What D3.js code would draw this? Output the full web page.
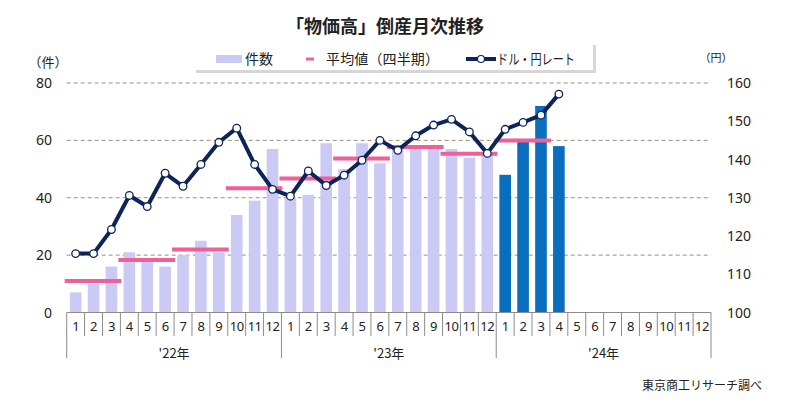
<!DOCTYPE html>
<html><head><meta charset="utf-8">
<script src="https://cdn.jsdelivr.net/npm/d3@7/dist/d3.min.js"></script>
<style>
html,body{margin:0;padding:0;background:#fff;}
svg text{font-family:"Noto Sans CJK JP","Noto Sans",sans-serif;fill:#222;}
</style></head>
<body><svg id="c" width="788" height="404"></svg>
<script>
const monthLabels = ["1","2","3","4","5","6","7","8","9","10","11","12"];
const yearLabels = ["'22年","'23年","'24年"];
const counts = [7,10,16,21,18,16,20,25,21,34,39,57, 40,41,59,50,59,52,57,58,58,57,54,55, 48,60,72,58];
const quarterAvg = [11,18.3,22,43.3,46.7,53.7,57.7,55.3,60];
const rate = [115.4,115.4,121.7,130.6,127.7,136.4,133.0,138.7,144.5,148.2,138.7,132.2,130.4,137.0,133.2,135.9,139.8,145.0,142.4,146.2,149.0,150.5,147.2,141.6,147.9,149.7,151.6,157.1];
const leftTicks = [0,20,40,60,80];
const rightTicks = [100,110,120,130,140,150,160];

const svg = d3.select("#c");
const X0 = 66.7, X1 = 711, Y0 = 312.5, Y1 = 83;
const slots = [];
yearLabels.forEach((y,yi)=>monthLabels.forEach((m,mi)=>slots.push(yi*12+mi)));
const x = d3.scaleBand().domain(slots).range([X0,X1]).paddingInner(0.35).paddingOuter(0.175);
const xs = d3.scaleLinear().domain([0,36]).range([X0,X1]);
const yL = d3.scaleLinear().domain([0,80]).range([Y0,Y1]);
const yR = d3.scaleLinear().domain([100,160]).range([Y0,Y1]);

// gridlines
svg.append("g").selectAll("line").data(leftTicks.filter(d=>d>0)).join("line")
  .attr("x1",X0).attr("x2",X1).attr("y1",d=>yL(d)).attr("y2",d=>yL(d))
  .attr("stroke","#9a8f78").attr("stroke-width",1).attr("stroke-dasharray","4,3");

// bars
svg.append("g").selectAll("rect").data(counts).join("rect")
  .attr("x",(d,i)=>x(i)).attr("width",x.bandwidth())
  .attr("y",d=>yL(d)).attr("height",d=>Y0-yL(d))
  .attr("fill",(d,i)=>i>=24?"#0a6ebf":"#cacaf5");

// quarterly averages
svg.append("g").selectAll("line").data(quarterAvg).join("line")
  .attr("x1",(d,i)=>xs(i*3)-2).attr("x2",(d,i)=>xs(i*3+3)+1)
  .attr("y1",d=>yL(d)).attr("y2",d=>yL(d))
  .attr("stroke","#ef5f98").attr("stroke-width",4);

// rate line
const line = d3.line().x((d,i)=>x(i)+x.bandwidth()/2).y(d=>yR(d));
svg.append("path").datum(rate).attr("d",line).attr("fill","none")
  .attr("stroke","#0c2458").attr("stroke-width",4).attr("stroke-linejoin","round");
svg.append("g").selectAll("circle").data(rate).join("circle")
  .attr("cx",(d,i)=>x(i)+x.bandwidth()/2).attr("cy",d=>yR(d)).attr("r",3.8)
  .attr("fill","#fff").attr("stroke","#0c2458").attr("stroke-width",1.3);

// x axis
const ax = svg.append("g");
ax.append("line").attr("x1",X0).attr("x2",X1).attr("y1",Y0).attr("y2",Y0).attr("stroke","#8c8c8c");
ax.selectAll("line.t").data(d3.range(0,37)).join("line").attr("class","t")
  .attr("x1",d=>xs(d)).attr("x2",d=>xs(d)).attr("y1",Y0)
  .attr("y2",d=>d%12===0?358:336).attr("stroke","#8c8c8c");
ax.selectAll("text.m").data(slots).join("text").attr("class","m")
  .attr("x",d=>x(d)+x.bandwidth()/2).attr("y",331).attr("text-anchor","middle")
  .attr("font-size",13).style("font-family","'Noto Sans',sans-serif")
  .attr("letter-spacing",-0.5)
  .text(d=>monthLabels[d%12]);
ax.selectAll("text.y").data(yearLabels).join("text").attr("class","y")
  .attr("x",(d,i)=>xs(i*12+6)).attr("y",358).attr("text-anchor","middle")
  .attr("font-size",13).text(d=>d);

// left axis labels
svg.append("g").selectAll("text").data(leftTicks).join("text")
  .attr("x",52).attr("y",d=>yL(d)+5).attr("text-anchor","end")
  .attr("font-size",14).style("font-family","'Noto Sans',sans-serif").text(d=>d);
svg.append("g").selectAll("text").data(rightTicks).join("text")
  .attr("x",727).attr("y",d=>yR(d)+5).attr("text-anchor","start")
  .attr("font-size",14).style("font-family","'Noto Sans',sans-serif").text(d=>d);
svg.append("text").attr("x",48).attr("y",67).attr("text-anchor","middle").attr("font-size",13).text("（件）");
svg.append("text").attr("x",716).attr("y",62).attr("text-anchor","middle").attr("font-size",11).text("（円）");

// title
svg.append("text").attr("x",385).attr("y",33).attr("text-anchor","middle")
  .attr("font-size",18).attr("font-weight","bold").text("「物価高」倒産月次推移");

// legend
const lg = svg.append("g");
lg.append("rect").attr("x",196).attr("y",45).attr("width",400).attr("height",28).attr("fill","#c4c4c4").attr("opacity",0.7);
lg.append("rect").attr("x",193).attr("y",42).attr("width",400).attr("height",28).attr("fill","#fff");
lg.append("rect").attr("x",216).attr("y",55).attr("width",26).attr("height",8).attr("fill","#cacaf5");
lg.append("text").attr("x",245).attr("y",64).attr("font-size",14).text("件数");
lg.append("line").attr("x1",306).attr("x2",314).attr("y1",59).attr("y2",59).attr("stroke","#ef5f98").attr("stroke-width",3);
lg.append("text").attr("x",326).attr("y",64).attr("font-size",14)
  .attr("textLength",113).attr("lengthAdjust","spacing").text("平均値（四半期）");
lg.append("line").attr("x1",466).attr("x2",496).attr("y1",59).attr("y2",59).attr("stroke","#0c2458").attr("stroke-width",4);
lg.append("circle").attr("cx",481).attr("cy",59).attr("r",3.5).attr("fill","#fff").attr("stroke","#0c2458").attr("stroke-width",1.2);
lg.append("text").attr("x",497).attr("y",64).attr("font-size",14)
  .attr("textLength",78).attr("lengthAdjust","spacingAndGlyphs").text("ドル・円レート");

// source
svg.append("text").attr("x",762).attr("y",390).attr("text-anchor","end").attr("font-size",12).text("東京商工リサーチ調べ");
</script></body></html>
